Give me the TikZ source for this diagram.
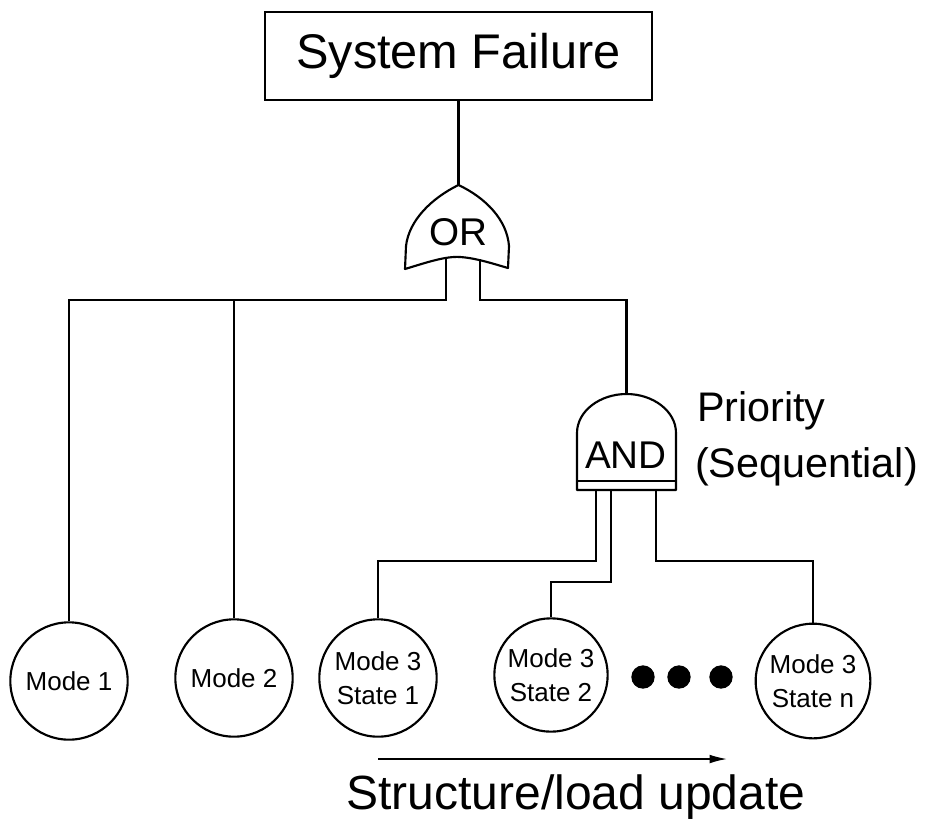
\documentclass[tikz,border=0pt]{standalone}
\usepackage{fontspec}
\setmainfont{Liberation Sans}
\usetikzlibrary{arrows.meta}
\begin{document}
\begin{tikzpicture}[x=0.75pt,y=-0.75pt,
  every path/.style={line width=1.6pt},
  ln/.style={draw=black,line width=1.6pt},
  modec/.style={circle,draw,line width=1.6pt,minimum size=88pt,inner sep=0pt,align=center,
    font=\fontsize{19.5}{25.5}\selectfont},
  dotc/.style={circle,fill=black,minimum size=17.5pt,inner sep=0pt},
  gatetxt/.style={font=\fontsize{29}{32}\selectfont,inner sep=0pt},
  lbl/.style={font=\fontsize{31}{36}\selectfont,inner sep=0pt,anchor=west}]
\useasboundingbox (0,0) rectangle (931,832);

% top event
\node[draw,line width=1.6pt,minimum width=290pt,minimum height=66pt,inner sep=0pt,
  font=\fontsize{36.5}{40}\selectfont] (sf) at (458.5,56) {System Failure};

% OR gate
\coordinate (orTop) at (458.5,185);
\draw[ln,line join=round] (orTop) .. controls (432,198) and (409,220) .. (406,246) -- (405,269)
  .. controls (425,263) and (445,256) .. (460,257)
  .. controls (476,258) and (494,264) .. (508,268) -- (509,246)
  .. controls (507,220) and (486,198) .. (orTop);
\node[gatetxt] (ortxt) at (458,232) {OR};
\coordinate (orL) at (446,259);
\coordinate (orR) at (480,259);
\coordinate (busL) at (446,300);
\coordinate (busR) at (480,300);

% AND gate
\coordinate (andTop) at (626.5,394);
\draw[ln,line join=round] (577,490) -- (577,433) .. controls (577,411) and (600,394) .. (andTop)
  .. controls (653,394) and (676,411) .. (676,433) -- (676,490) -- cycle;
\draw[ln] (577,481) -- (676,481);
\node[gatetxt] (andtxt) at (626,455) {AND};
\coordinate (andL) at (596,490);
\coordinate (andM) at (611,490);
\coordinate (andR) at (656,490);

\node[lbl] (pri) at (696,411) {Priority};
\node[lbl] (seq) at (694,467) {(Sequential)};

% basic events
\node[modec] (m1) at (69,681) {Mode 1};
\node[modec] (m2) at (234,678) {Mode 2};
\node[modec] (s1) at (378,678) {Mode 3\\State 1};
\node[modec,minimum size=85pt] (s2) at (551,675) {Mode 3\\State 2};
\node[modec,minimum size=86pt] (sn) at (813,681) {Mode 3\\State n};

\node[dotc] (d1) at (643,677) {};
\node[dotc] (d2) at (679,677) {};
\node[dotc] (d3) at (721,677) {};

% connectors
\draw[ln] (sf.south) -- (orTop);
\draw[ln] (orL) -- (busL) -| (m1.north);
\draw[ln] (m2.north) -- (m2.north |- busL);
\draw[ln] (orR) -- (busR) -| (andTop);
\draw[ln] (andL) -- ++(0,71) -| (s1.north);
\draw[ln] (andM) -- ++(0,92) -| (s2.north);
\draw[ln] (andR) -- ++(0,71) -| (sn.north);

% update arrow
\coordinate (arS) at (378,759);
\coordinate (arE) at (727,759);
\draw[line width=1.1pt,-{Latex[length=13pt,width=6.5pt]}] (arS) -- (arE);
\node[font=\fontsize{36}{40}\selectfont,inner sep=0pt] (upd) at (576,797) {Structure/load update};
\end{tikzpicture}
\end{document}
